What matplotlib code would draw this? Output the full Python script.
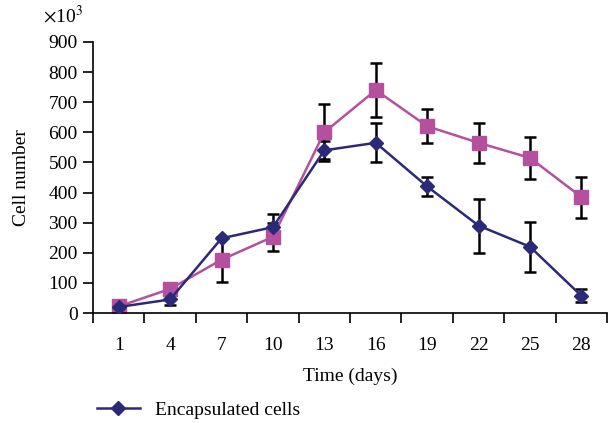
import matplotlib
matplotlib.use("Agg")
import matplotlib.pyplot as plt
import numpy as np

plt.rcParams['font.family'] = ['Liberation Serif', 'DejaVu Serif']

days = [1, 4, 7, 10, 13, 16, 19, 22, 25, 28]
encapsulated = [20, 45, 248, 285, 540, 565, 420, 290, 220, 57]
encapsulated_err = [8, 20, 0, 45, 30, 65, 33, 90, 83, 22]
other = [22, 80, 177, 253, 600, 740, 620, 565, 515, 385]
other_err = [0, 20, 75, 47, 95, 90, 57, 67, 70, 68]

navy = '#2b2a78'
magenta = '#b5509e'
fs = 14

fig = plt.figure(figsize=(6.12, 4.23), dpi=100)
ax = fig.add_axes([0.152, 0.26, 0.84, 0.641])

x = np.arange(len(days))
ax.errorbar(x, other, yerr=other_err, fmt='none', ecolor='black', elinewidth=1.8,
            capsize=4, capthick=1.8, zorder=1)
ax.errorbar(x, encapsulated, yerr=encapsulated_err, fmt='none', ecolor='black',
            elinewidth=1.8, capsize=4, capthick=1.8, zorder=1)
ax.plot(x, encapsulated, color=navy, lw=1.8, marker='D', ms=7, zorder=3,
        label='Encapsulated cells')
ax.plot(x, other, color=magenta, lw=1.8, marker='s', ms=10, zorder=2)

ax.set_xlim(-0.5, len(days) - 0.5)
ax.set_ylim(0, 900)
ax.set_yticks(range(0, 901, 100))
ax.set_xticks(x)
ax.set_xticklabels([str(d) for d in days])
ax.set_xticks(np.arange(-0.5, len(days), 1), minor=True)
ax.tick_params(axis='x', which='major', length=0, pad=17, labelsize=fs)
ax.tick_params(axis='x', which='minor', length=7, width=1.2, direction='out')
ax.tick_params(axis='y', length=7, width=1.2, labelsize=fs, pad=4)

for s in ['top', 'right']:
    ax.spines[s].set_visible(False)
for s in ['left', 'bottom']:
    ax.spines[s].set_linewidth(1.2)

ax.set_xlabel('Time (days)', fontsize=fs, labelpad=10)
ax.set_ylabel('Cell number', fontsize=fs, labelpad=13)
fig.text(0.07, 0.962, r'$\times$10$^3$', fontsize=fs, ha='left', va='center',
         math_fontfamily='stix')

fig.legend(loc='center left', bbox_to_anchor=(0.13, 0.03), frameon=False,
           fontsize=fs, handlelength=2.2)

fig.savefig('out.png', dpi=100)
